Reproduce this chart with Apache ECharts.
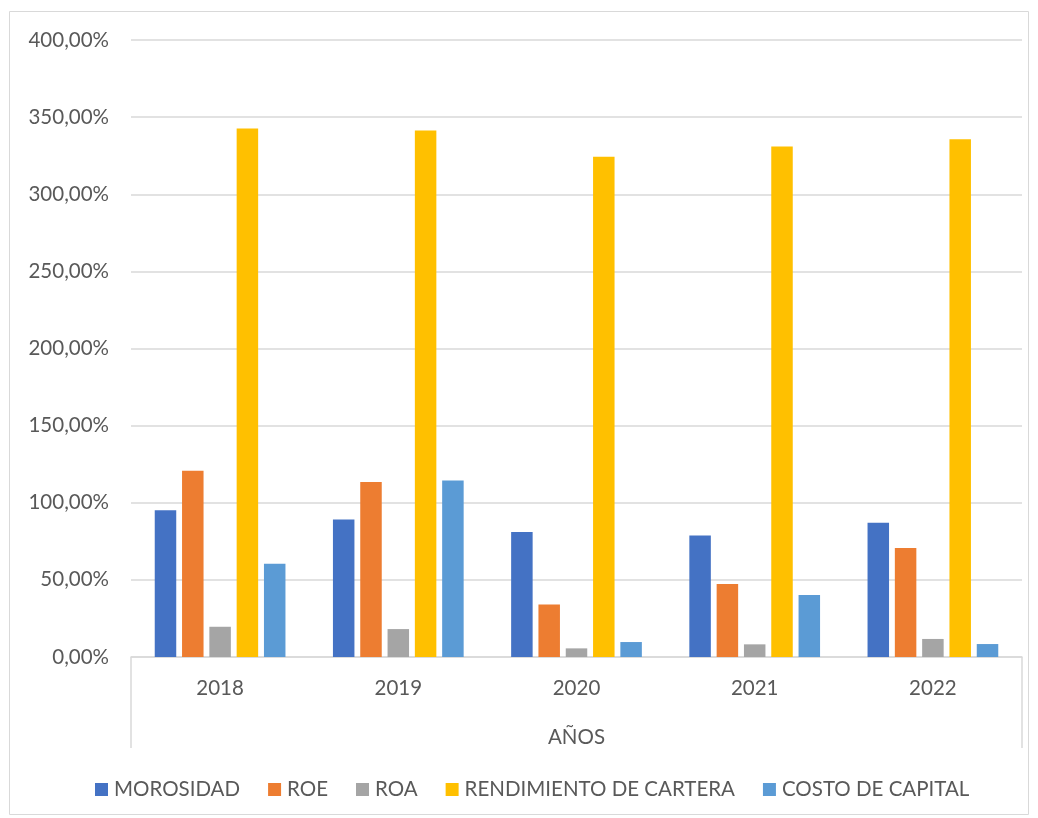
<!DOCTYPE html>
<html>
<head>
<meta charset="utf-8">
<script src="https://cdn.jsdelivr.net/npm/echarts@6/dist/echarts.min.js"></script>
<style>
  html, body { margin: 0; padding: 0; background: #ffffff; }
  #chart { width: 1038px; height: 818px; }
</style>
</head>
<body>
<div id="chart"></div>
<script>
// Years on the category axis
const years = ['2018', '2019', '2020', '2021', '2022'];

// Indicator values, in percent
const morosidad = [95.1, 89.2, 81.0, 78.8, 87.0];
const roe = [120.7, 113.4, 34.1, 47.3, 70.6];
const roa = [19.6, 18.1, 5.6, 8.2, 11.7];
const rendimientoCartera = [342.6, 341.3, 324.3, 331.0, 335.7];
const costoCapital = [60.5, 114.5, 9.7, 40.2, 8.4];

// Value-axis ticks (percent)
const yTicks = [0, 50, 100, 150, 200, 250, 300, 350, 400];

const seriesNames = ['MOROSIDAD', 'ROE', 'ROA', 'RENDIMIENTO DE CARTERA', 'COSTO DE CAPITAL'];
const seriesData = [morosidad, roe, roa, rendimientoCartera, costoCapital];
const colors = ['#4472C4', '#ED7D31', '#A5A5A5', '#FFC000', '#5B9BD5'];

const FONT = 'Lato, "Open Sans", sans-serif';
const TEXT = '#595959';
const SIZE = 20.5;

const gridLeft = 131, gridRight = 1022, gridTop = 40, gridBottom = 657;

const chart = echarts.init(document.getElementById('chart'));

chart.setOption({
  animation: false,
  color: colors,
  textStyle: { fontFamily: FONT },
  grid: {
    left: gridLeft,
    right: 1038 - gridRight,
    top: gridTop,
    bottom: 818 - gridBottom,
    containLabel: false
  },
  legend: {
    data: seriesNames,
    left: 90,
    top: 774,
    itemWidth: 13,
    itemHeight: 13,
    itemGap: 28,
    icon: 'rect',
    textStyle: { color: TEXT, fontSize: SIZE, fontFamily: FONT, padding: [0, 0, 0, 1] }
  },
  xAxis: {
    type: 'category',
    data: years,
    name: 'AÑOS',
    nameLocation: 'middle',
    nameGap: 70,
    nameTextStyle: { color: TEXT, fontSize: SIZE, fontFamily: FONT },
    axisLine: { lineStyle: { color: '#d9d9d9', width: 1.5 } },
    axisTick: { show: false },
    axisLabel: { color: TEXT, fontSize: SIZE, fontFamily: FONT, margin: 21 }
  },
  yAxis: {
    type: 'value',
    min: yTicks[0],
    max: yTicks[yTicks.length - 1],
    interval: yTicks[1] - yTicks[0],
    axisLine: { show: false },
    axisTick: { show: false },
    splitLine: { lineStyle: { color: '#d9d9d9', width: 1.5 } },
    axisLabel: {
      color: TEXT,
      fontSize: SIZE,
      fontFamily: FONT,
      margin: 22,
      formatter: v => v.toFixed(2).replace('.', ',') + '%'
    }
  },
  series: seriesNames.map((name, i) => ({
    name: name,
    type: 'bar',
    data: seriesData[i],
    barWidth: 21.5,
    barGap: '27%',
    itemStyle: { color: colors[i] }
  })),
  graphic: [
    // outer chart border
    {
      type: 'rect',
      shape: { x: 9.5, y: 11.5, width: 1019, height: 803 },
      style: { fill: null, stroke: '#d9d9d9', lineWidth: 1 },
      silent: true
    },
    // edge lines of the category axis band
    {
      type: 'line',
      shape: { x1: gridLeft, y1: gridBottom, x2: gridLeft, y2: 748 },
      style: { stroke: '#d9d9d9', lineWidth: 1.5 },
      silent: true
    },
    {
      type: 'line',
      shape: { x1: gridRight, y1: gridBottom, x2: gridRight, y2: 748 },
      style: { stroke: '#d9d9d9', lineWidth: 1.5 },
      silent: true
    }
  ]
});
</script>
</body>
</html>
